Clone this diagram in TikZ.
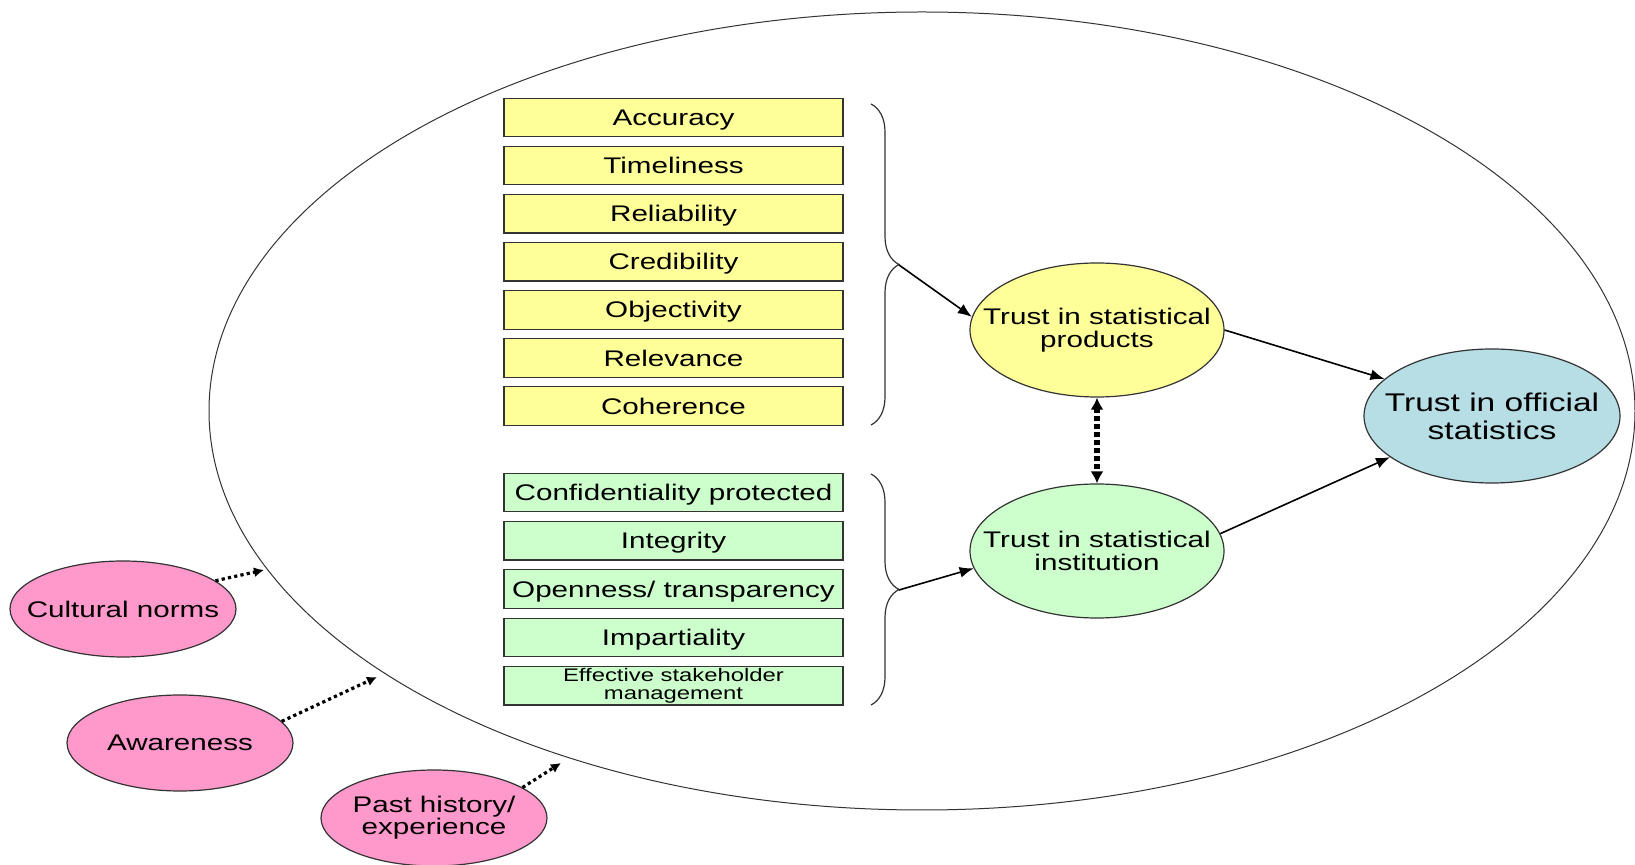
\documentclass[tikz,border=0pt]{standalone}
\usepackage{fontspec}
\setmainfont{Liberation Sans}[FakeStretch=1.31]
\usetikzlibrary{shapes,arrows,arrows.meta,positioning,calc,decorations.pathreplacing}
\definecolor{prodyellow}{RGB}{255,255,153}
\definecolor{instgreen}{RGB}{204,255,204}
\definecolor{offblue}{RGB}{183,222,228}
\definecolor{factpink}{RGB}{255,153,204}

\begin{document}
\begin{tikzpicture}[x=0.5pt,y=-0.5pt,
    qbox/.style={draw=black!80,line width=0.6pt,minimum width=169.5pt,minimum height=19.25pt,inner sep=0pt,text height=8.1pt,text depth=0pt,font=\fontsize{11.3}{11.5}\selectfont},
    trust/.style={ellipse,draw=black!80,line width=0.6pt,minimum width=127pt,minimum height=67pt,inner sep=0pt,label={[align=center,font=\fontsize{11.3}{11.5}\selectfont]center:#1}},
    factor/.style={ellipse,draw=black!80,line width=0.6pt,fill=factpink,minimum width=113pt,minimum height=48pt,inner sep=0pt,label={[align=center,font=\fontsize{11.3}{11}\selectfont]center:#1}},
    bracket/.style={decorate,decoration={brace,amplitude=14pt},line width=0.6pt,draw=black!80},
    flow/.style={line width=0.8pt,-{Latex[length=7pt,width=5.5pt]}},
    influence/.style={line width=1.6pt,dash pattern=on 1.6pt off 1.6pt,-{Latex[length=5pt,width=5pt]}},
    mutual/.style={line width=2.8pt,dash pattern=on 2.5pt off 1.5pt,{Latex[length=6pt,width=6.5pt]}-{Latex[length=6pt,width=6.5pt]}}]
    \useasboundingbox (0,0) rectangle (1635,865);

    % Surrounding environment
    \node[ellipse,draw=black!80,line width=0.5pt,minimum width=713pt,minimum height=399pt,inner sep=0pt] (env) at (922,411) {};

    % Product qualities
    \node[qbox,fill=prodyellow] (acc) at (673.5,117.5) {Accuracy};
    \node[qbox,fill=prodyellow] (tim) at (673.5,165.6) {Timeliness};
    \node[qbox,fill=prodyellow] (rel) at (673.5,213.7) {Reliability};
    \node[qbox,fill=prodyellow] (cre) at (673.5,261.8) {Credibility};
    \node[qbox,fill=prodyellow] (obj) at (673.5,309.9) {Objectivity};
    \node[qbox,fill=prodyellow] (rlv) at (673.5,358) {Relevance};
    \node[qbox,fill=prodyellow] (coh) at (673.5,406.1) {Coherence};

    % Institution qualities
    \node[qbox,fill=instgreen] (con) at (673.5,492.5) {Confidentiality protected};
    \node[qbox,fill=instgreen] (int) at (673.5,540.8) {Integrity};
    \node[qbox,fill=instgreen] (opn) at (673.5,589.1) {Openness/ transparency};
    \node[qbox,fill=instgreen] (imp) at (673.5,637.4) {Impartiality};
    \node[qbox,fill=instgreen,align=center,text height=,text depth=,font=\fontsize{9.1}{9.3}\selectfont] (eff) at (673.5,685.7) {Effective stakeholder\\management};

    % Braces
    \draw[bracket] (871,104) -- (871,425);
    \draw[bracket] (871,474) -- (871,705);
    \coordinate (ptip) at (899,265);
    \coordinate (itip) at (899,590);

    % Trust nodes
    \node[trust={Trust in statistical\\products},fill=prodyellow] (tsp) at (1097,330) {};
    \node[trust={Trust in statistical\\institution},fill=instgreen] (tsi) at (1097,551) {};
    \node[ellipse,draw=black!80,line width=0.6pt,fill=offblue,minimum width=128pt,minimum height=67pt,inner sep=0pt,label={[align=center,font=\fontsize{12.8}{14}\selectfont]center:Trust in official\\statistics}] (tos) at (1492,416) {};

    % Outside factors
    \node[factor={Cultural norms}] (cul) at (123,609) {};
    \node[factor={Awareness}] (awa) at (180,743) {};
    \node[factor={Past history/\\experience}] (pst) at (434,818) {};
    \coordinate (culend) at (264,570);
    \coordinate (awaend) at (377,677);
    \coordinate (pstend) at (561,763);

    % Flows
    \draw[flow] (ptip) -- (tsp.174);
    \draw[flow] (itip) -- (tsi.188);
    \draw[flow] (tsp.east) -- (tos.161);
    \draw[flow] (tsi.8) -- (tos.202);
    \draw[mutual] (tsp.south) -- (tsi.north);

    \draw[influence] (cul.17) -- (culend);
    \draw[influence] (awa.12) -- (awaend);
    \draw[influence] (pst.19) -- (pstend);
\end{tikzpicture}
\end{document}
